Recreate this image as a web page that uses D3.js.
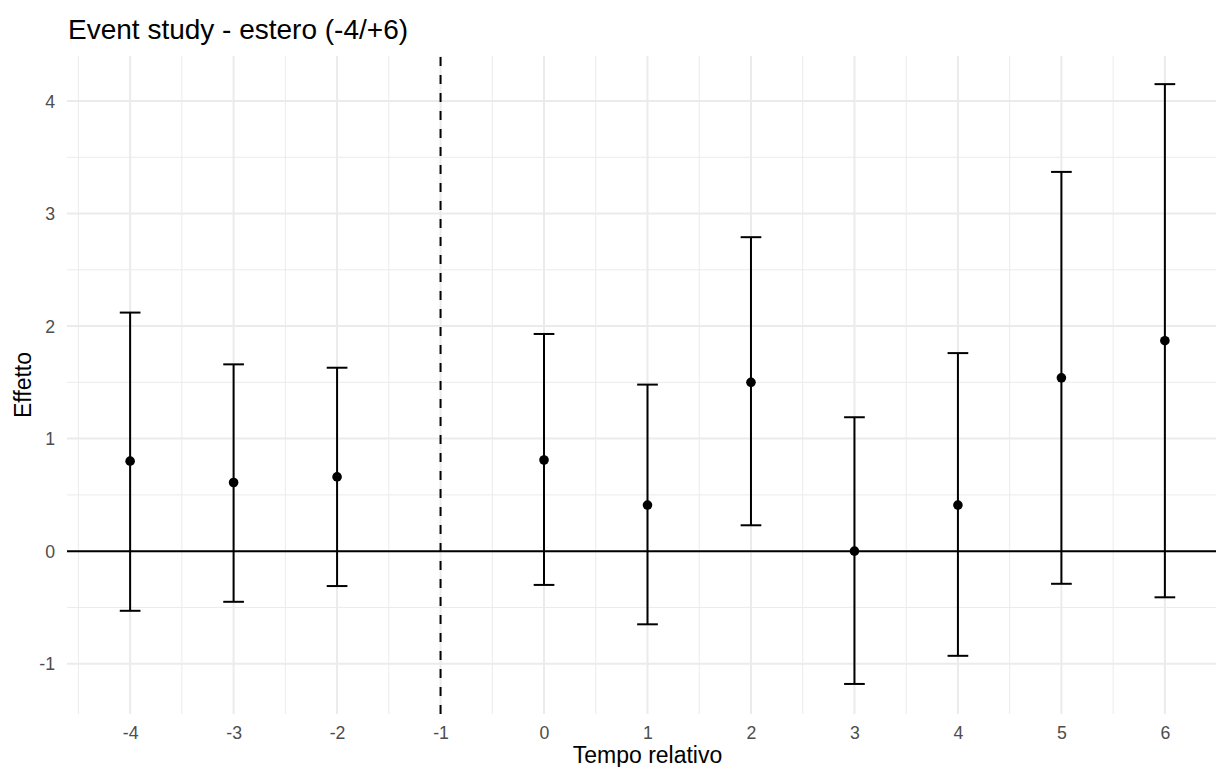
<!DOCTYPE html>
<html>
<head>
<meta charset="utf-8">
<script src="https://cdn.jsdelivr.net/npm/d3@7"></script>
<style>
  html, body { margin: 0; padding: 0; background: #fff; }
  svg { display: block; font-family: "Liberation Sans", Arial, sans-serif; }
</style>
</head>
<body>
<div id="chart"></div>
<script>
// event study estimates
var periods  = [-4, -3, -2, 0, 1, 2, 3, 4, 5, 6];
var estimate = [0.80, 0.61, 0.66, 0.81, 0.41, 1.50, 0.00, 0.41, 1.54, 1.87];
var ciLow    = [-0.53, -0.45, -0.31, -0.30, -0.65, 0.23, -1.18, -0.93, -0.29, -0.41];
var ciHigh   = [2.12, 1.66, 1.63, 1.93, 1.48, 2.79, 1.19, 1.76, 3.37, 4.15];
var xTicks   = [-4, -3, -2, -1, 0, 1, 2, 3, 4, 5, 6];
var yTicks   = [-1, 0, 1, 2, 3, 4];
var eventPeriod = -1;

var W = 1216, H = 767;
var panel = { left: 67, right: 1228, top: 56, bottom: 714 };
var FONT = "Liberation Sans, Arial, sans-serif";

var svg = d3.select("#chart").append("svg")
  .attr("width", W).attr("height", H);

var x = d3.scaleLinear().domain([-4.61, 6.61]).range([panel.left, panel.right]);
var y = d3.scaleLinear().domain([-1.447, 4.4]).range([panel.bottom, panel.top]);

var rows = periods.map(function (p, i) {
  return { t: p, est: estimate[i], lo: ciLow[i], hi: ciHigh[i] };
});

// plain hyphen for negatives, like the R output
var fmt = function (d) { return String(d); };

// minor grid (half steps)
var xMinor = d3.range(-4.5, 7, 1);
var yMinor = d3.range(-0.5, 4.5, 1);
var grid = svg.append("g");
grid.selectAll(".xminor").data(xMinor).enter().append("line")
  .attr("x1", function (d) { return x(d); }).attr("x2", function (d) { return x(d); })
  .attr("y1", panel.top).attr("y2", panel.bottom)
  .attr("stroke", "#ebebeb").attr("stroke-width", 1);
grid.selectAll(".yminor").data(yMinor).enter().append("line")
  .attr("x1", panel.left).attr("x2", panel.right)
  .attr("y1", function (d) { return y(d); }).attr("y2", function (d) { return y(d); })
  .attr("stroke", "#ebebeb").attr("stroke-width", 1);

// major grid
grid.selectAll(".xmajor").data(xTicks).enter().append("line")
  .attr("x1", function (d) { return x(d); }).attr("x2", function (d) { return x(d); })
  .attr("y1", panel.top).attr("y2", panel.bottom)
  .attr("stroke", "#ebebeb").attr("stroke-width", 2);
grid.selectAll(".ymajor").data(yTicks).enter().append("line")
  .attr("x1", panel.left).attr("x2", panel.right)
  .attr("y1", function (d) { return y(d); }).attr("y2", function (d) { return y(d); })
  .attr("stroke", "#ebebeb").attr("stroke-width", 2);

// axes (ticks hidden, labels only)
var xAxis = d3.axisBottom(x).tickValues(xTicks).tickFormat(fmt).tickSize(0).tickPadding(0);
svg.append("g")
  .attr("transform", "translate(0," + panel.bottom + ")")
  .call(xAxis)
  .call(function (g) { g.select(".domain").remove(); })
  .selectAll("text")
  .attr("dy", null).attr("y", 25)
  .attr("font-size", "17.7px").attr("fill", "#4d4d4d")
  .attr("font-family", FONT);

var yAxis = d3.axisLeft(y).tickValues(yTicks).tickFormat(fmt).tickSize(0).tickPadding(0);
svg.append("g")
  .attr("transform", "translate(" + (panel.left - 12) + ",0)")
  .call(yAxis)
  .call(function (g) { g.select(".domain").remove(); })
  .selectAll("text")
  .attr("dy", "0.35em").attr("x", 0)
  .attr("font-size", "17.7px").attr("fill", "#4d4d4d")
  .attr("font-family", FONT);

// reference lines
svg.append("line")
  .attr("x1", panel.left).attr("x2", panel.right)
  .attr("y1", y(0)).attr("y2", y(0))
  .attr("stroke", "#000").attr("stroke-width", 2);
svg.append("line")
  .attr("x1", x(eventPeriod)).attr("x2", x(eventPeriod))
  .attr("y1", panel.bottom).attr("y2", panel.top)
  .attr("stroke", "#000").attr("stroke-width", 2)
  .attr("stroke-dasharray", "9,9");

// error bars
var capHalf = x(0.1) - x(0);
var bars = svg.append("g").selectAll("g").data(rows).enter().append("g");
bars.append("line")
  .attr("x1", function (d) { return x(d.t); }).attr("x2", function (d) { return x(d.t); })
  .attr("y1", function (d) { return y(d.lo); }).attr("y2", function (d) { return y(d.hi); })
  .attr("stroke", "#000").attr("stroke-width", 2);
bars.append("line")
  .attr("x1", function (d) { return x(d.t) - capHalf; }).attr("x2", function (d) { return x(d.t) + capHalf; })
  .attr("y1", function (d) { return y(d.lo); }).attr("y2", function (d) { return y(d.lo); })
  .attr("stroke", "#000").attr("stroke-width", 2);
bars.append("line")
  .attr("x1", function (d) { return x(d.t) - capHalf; }).attr("x2", function (d) { return x(d.t) + capHalf; })
  .attr("y1", function (d) { return y(d.hi); }).attr("y2", function (d) { return y(d.hi); })
  .attr("stroke", "#000").attr("stroke-width", 2);

// point estimates
svg.append("g").selectAll("circle").data(rows).enter().append("circle")
  .attr("cx", function (d) { return x(d.t); })
  .attr("cy", function (d) { return y(d.est); })
  .attr("r", 4.8).attr("fill", "#000");

// titles
svg.append("text")
  .attr("x", 68).attr("y", 39)
  .attr("font-size", "28px").attr("fill", "#000")
  .attr("font-family", FONT)
  .text("Event study - estero (-4/+6)");

svg.append("text")
  .attr("x", (panel.left + panel.right) / 2).attr("y", 763)
  .attr("text-anchor", "middle")
  .attr("font-size", "23px").attr("fill", "#000")
  .attr("font-family", FONT)
  .text("Tempo relativo");

svg.append("text")
  .attr("transform", "translate(30.5," + ((panel.top + panel.bottom) / 2) + ") rotate(-90)")
  .attr("text-anchor", "middle")
  .attr("font-size", "23px").attr("fill", "#000")
  .attr("font-family", FONT)
  .text("Effetto");
</script>
</body>
</html>
